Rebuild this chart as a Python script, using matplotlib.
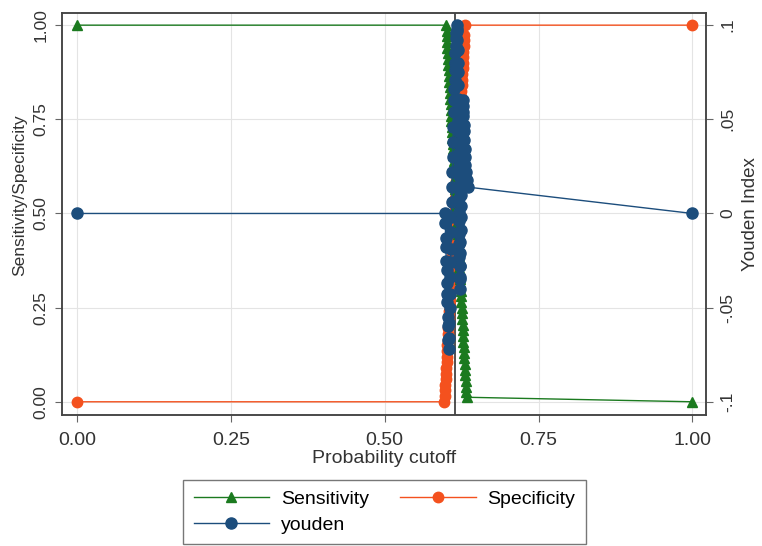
import numpy as np
import matplotlib
matplotlib.use("Agg")
import matplotlib.pyplot as plt

plt.rcParams['font.family'] = ['Liberation Sans', 'DejaVu Sans']

# sensitivity curve (cutoff, value)
sens_x = [0.0000,
          0.6000, 0.6005, 0.6010, 0.6015, 0.6020, 0.6025, 0.6030, 0.6035, 0.6040, 0.6045,
          0.6050, 0.6055, 0.6060, 0.6065, 0.6070, 0.6075, 0.6080, 0.6085, 0.6090, 0.6095,
          0.6100, 0.6105, 0.6110, 0.6115, 0.6120, 0.6125, 0.6130, 0.6135, 0.6140, 0.6145,
          0.6150, 0.6155, 0.6160, 0.6165, 0.6170, 0.6175, 0.6180, 0.6185, 0.6190, 0.6195,
          0.6200, 0.6205, 0.6210, 0.6215, 0.6220, 0.6225, 0.6230, 0.6235, 0.6240, 0.6245,
          0.6250, 0.6255, 0.6260, 0.6265, 0.6270, 0.6275, 0.6280, 0.6285, 0.6290, 0.6295,
          0.6300, 0.6305, 0.6310, 0.6315, 0.6320, 0.6325, 0.6330,
          1.0000]
sens_y = [1.000,
          1.000, 0.985, 0.970, 0.955, 0.940, 0.925, 0.910, 0.895, 0.880, 0.865,
          0.850, 0.835, 0.820, 0.805, 0.790, 0.775, 0.760, 0.745, 0.730, 0.715,
          0.700, 0.685, 0.670, 0.655, 0.640, 0.625, 0.610, 0.595, 0.580, 0.565,
          0.550, 0.535, 0.520, 0.505, 0.490, 0.475, 0.460, 0.445, 0.430, 0.415,
          0.400, 0.385, 0.370, 0.355, 0.340, 0.325, 0.310, 0.295, 0.280, 0.265,
          0.250, 0.235, 0.220, 0.205, 0.190, 0.175, 0.160, 0.145, 0.130, 0.115,
          0.100, 0.085, 0.070, 0.055, 0.040, 0.025, 0.012,
          0.000]

# specificity curve
spec_x = [0.0000,
          0.5970, 0.5975, 0.5980, 0.5985, 0.5990, 0.5995, 0.6000, 0.6005, 0.6010, 0.6015,
          0.6020, 0.6025, 0.6030, 0.6035, 0.6040, 0.6045, 0.6050, 0.6055, 0.6060, 0.6065,
          0.6070, 0.6075, 0.6080, 0.6085, 0.6090, 0.6095, 0.6100, 0.6105, 0.6110, 0.6115,
          0.6120, 0.6125, 0.6130, 0.6135, 0.6140, 0.6145, 0.6150, 0.6155, 0.6160, 0.6165,
          0.6170, 0.6175, 0.6180, 0.6185, 0.6190, 0.6195, 0.6200, 0.6205, 0.6210, 0.6215,
          0.6220, 0.6225, 0.6230, 0.6235, 0.6240, 0.6245, 0.6250, 0.6255, 0.6260, 0.6265,
          0.6270, 0.6275, 0.6280, 0.6285, 0.6290, 0.6295, 0.6300,
          1.0000]
spec_y = [0.000,
          0.000, 0.015, 0.030, 0.045, 0.060, 0.075, 0.090, 0.105, 0.120, 0.135,
          0.150, 0.165, 0.180, 0.195, 0.210, 0.225, 0.240, 0.255, 0.270, 0.285,
          0.300, 0.315, 0.330, 0.345, 0.360, 0.375, 0.390, 0.405, 0.420, 0.435,
          0.450, 0.465, 0.480, 0.495, 0.510, 0.525, 0.540, 0.555, 0.570, 0.585,
          0.600, 0.615, 0.630, 0.645, 0.660, 0.675, 0.690, 0.705, 0.720, 0.735,
          0.750, 0.765, 0.780, 0.795, 0.810, 0.825, 0.840, 0.855, 0.870, 0.885,
          0.900, 0.915, 0.930, 0.945, 0.960, 0.975, 1.000,
          1.000]

# youden index (right axis) - jagged band around the cutoff
you_x = [0.0000,
         0.5980, 0.5985, 0.5990, 0.5995, 0.6000, 0.6005, 0.6010, 0.6015, 0.6020, 0.6025,
         0.6030, 0.6035, 0.6040,
         0.6045, 0.6050, 0.6055, 0.6060, 0.6065, 0.6070, 0.6075, 0.6080, 0.6085, 0.6090,
         0.6095, 0.6100, 0.6105, 0.6110, 0.6115, 0.6120,
         0.6125, 0.6130, 0.6135, 0.6140, 0.6145, 0.6150, 0.6155, 0.6160, 0.6165, 0.6170,
         0.6175, 0.6180,
         0.6183, 0.6185, 0.6187, 0.6188, 0.6190, 0.6192, 0.6193, 0.6195, 0.6197, 0.6198,
         0.6200, 0.6202, 0.6203, 0.6205, 0.6207, 0.6208, 0.6210, 0.6212, 0.6213, 0.6215,
         0.6217, 0.6218, 0.6220,
         0.6223, 0.6226, 0.6229, 0.6232, 0.6235, 0.6238, 0.6241, 0.6244, 0.6247, 0.6250,
         0.6253, 0.6256, 0.6259, 0.6262, 0.6265, 0.6268,
         0.6272, 0.6277, 0.6282, 0.6287, 0.6292, 0.6298, 0.6305, 0.6313, 0.6322, 0.6335,
         0.6350,
         1.0000]
you_y = [0.000,
         0.000, -0.005, -0.013, -0.018, -0.025, -0.030, -0.037, -0.043, -0.047, -0.055,
         -0.060, -0.067, -0.072,
         -0.066, -0.058, -0.050, -0.043, -0.034, -0.026, -0.019, -0.010, -0.002, 0.006,
         0.014, 0.022, 0.030, 0.038, 0.046, 0.054,
         0.060, 0.066, 0.071, 0.076, 0.080, 0.085, 0.089, 0.093, 0.096, 0.098,
         0.100, 0.097,
         0.092, 0.087, 0.080, 0.075, 0.068, 0.061, 0.056, 0.049, 0.044, 0.037,
         0.032, 0.025, 0.020, 0.013, 0.008, 0.001, -0.004, -0.011, -0.016, -0.023,
         -0.028, -0.035, -0.040,
         -0.034, -0.028, -0.021, -0.015, -0.009, -0.002, 0.004, 0.010, 0.017, 0.023,
         0.029, 0.036, 0.042, 0.048, 0.054, 0.060,
         0.057, 0.052, 0.047, 0.044, 0.039, 0.034, 0.030, 0.026, 0.022, 0.018,
         0.014,
         0.000]

cutoff = 0.614

green = '#1b7a1f'
orange = '#f4511e'
navy = '#1c4d7c'
txt = '#333333'

fig = plt.figure(figsize=(7.62, 5.46), dpi=100)
ax = fig.add_axes([0.0814, 0.240, 0.8455, 0.736])
ax2 = ax.twinx()

ax.axvline(cutoff, color='#333333', lw=1.2, zorder=1)
l1, = ax.plot(sens_x, sens_y, color=green, marker='^', ms=7.5, lw=1,
              label='Sensitivity', zorder=3)
l2, = ax.plot(spec_x, spec_y, color=orange, marker='o', ms=7.5, lw=1,
              label='Specificity', zorder=2)
l3, = ax2.plot(you_x, you_y, color=navy, marker='o', ms=8, lw=1,
               label='youden', zorder=4)
ax.set_zorder(ax2.get_zorder() - 1)
ax.patch.set_visible(True)
ax2.patch.set_visible(False)

ax.set_xlim(-0.0244, 1.0227)
ax.set_ylim(-0.035, 1.032)
ax2.set_ylim((-0.035 - 0.5) * 0.2, (1.032 - 0.5) * 0.2)

ax.set_xticks([0, 0.25, 0.5, 0.75, 1.0])
ax.set_xticklabels(['0.00', '0.25', '0.50', '0.75', '1.00'])
ax.set_yticks([0, 0.25, 0.5, 0.75, 1.0])
ax.set_yticklabels(['0.00', '0.25', '0.50', '0.75', '1.00'], rotation=90, va='center')
ax2.set_yticks([-0.1, -0.05, 0, 0.05, 0.1])
ax2.set_yticklabels(['-.1', '-.05', '0', '.05', '.1'], rotation=90, va='center')

ax.grid(True, color='#e4e4e4', lw=0.8)
ax.set_axisbelow(True)

for a in (ax, ax2):
    a.tick_params(length=5, pad=5, color='#666666', labelcolor=txt)
    a.tick_params(axis='y', labelsize=12.5)
    for s in a.spines.values():
        s.set_color('#444444')
        s.set_linewidth(1.1)
ax.tick_params(axis='x', labelsize=14, pad=7)

ax.set_xlabel('Probability cutoff', fontsize=14, color=txt, labelpad=1)
ax.set_ylabel('Sensitivity/Specificity', fontsize=12.5, color=txt)
ax.yaxis.set_label_coords(-0.054, 0.547)
ax2.set_ylabel('Youden Index', fontsize=13.5, color=txt, rotation=90, labelpad=5)

# row-wise order: Sensitivity, Specificity / youden
leg = fig.legend(handles=[l1, l3, l2], loc='upper center', bbox_to_anchor=(0.5046, 0.121),
                 ncol=2, fontsize=14, frameon=True, fancybox=False, handlelength=3.9,
                 handletextpad=0.6, columnspacing=1.6, borderpad=0.55, labelspacing=0.4,
                 borderaxespad=0)
leg.get_frame().set_edgecolor('#555555')
leg.get_frame().set_linewidth(1.0)

fig.savefig('out.png', dpi=100)
